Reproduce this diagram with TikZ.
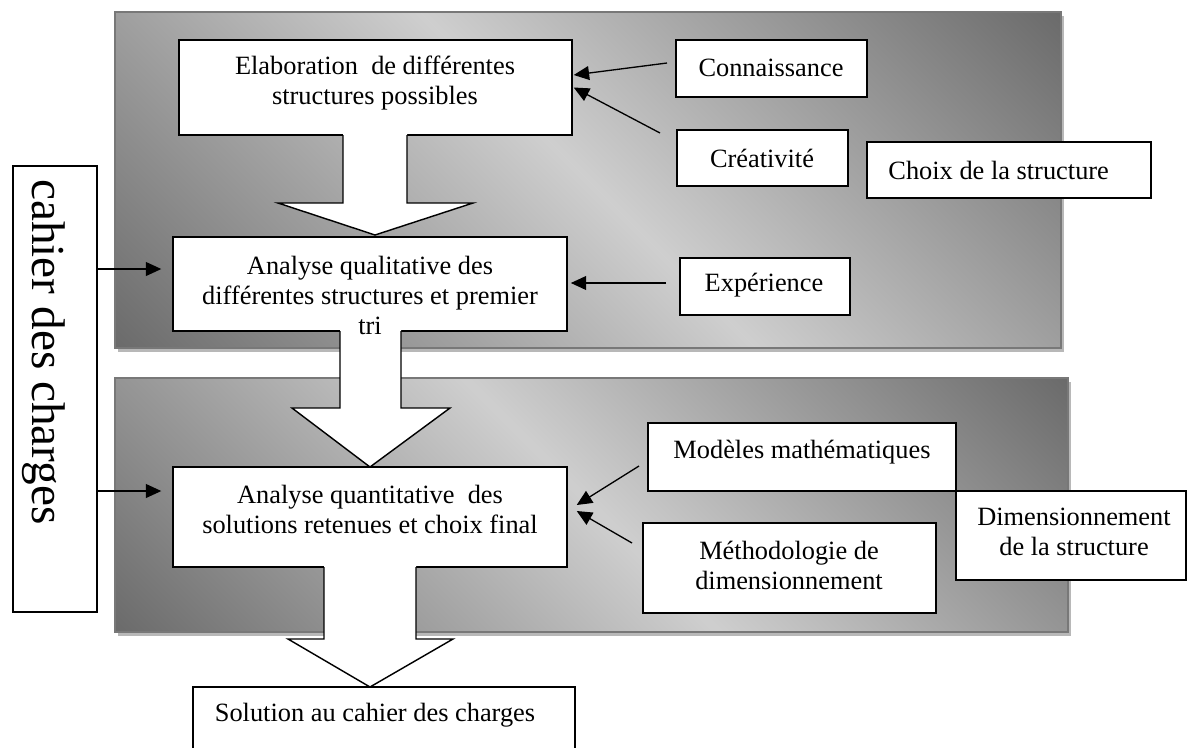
\documentclass[tikz,border=0pt]{standalone}
\usepackage{fontspec}
\setmainfont{Liberation Serif}
\usetikzlibrary{arrows.meta}
\def\pxl{0.455pt}
\definecolor{pdark}{gray}{0.39}
\definecolor{plight}{gray}{0.81}
\definecolor{pborder}{gray}{0.47}
\definecolor{pshadow}{gray}{0.72}
\pgfdeclareverticalshading{panelshade}{100bp}{color(0bp)=(pdark); color(12bp)=(pdark); color(50bp)=(plight); color(88bp)=(pdark); color(100bp)=(pdark)}
\begin{document}
\begin{tikzpicture}[x=0.455pt,y=-0.455pt,
  box/.style={draw, fill=white, line width=0.65pt, inner sep=0pt},
  txt/.style={align=center, inner sep=0pt, font=\fontsize{12}{13.65}\selectfont},
  arr/.style={line width=0.6pt, -{Triangle[length=7pt,width=6.3pt]}},
  blk/.style={line width=0.65pt, line join=miter},
  panel/.style={shading=panelshade, shading angle=-45},
  pframe/.style={draw=pborder, line width=0.8pt},
  pshade/.style={fill=pshadow}]
\useasboundingbox (0,0) rectangle (1187,747);

% panels
\fill[pshade] (118,16) rectangle (1064,352);
\fill[panel] (115,12) rectangle (1061,348);
\draw[pframe] (115,12) rectangle (1061,348);
\fill[pshade] (118,382) rectangle (1071,636);
\fill[panel] (115,378) rectangle (1068,632);
\draw[pframe] (115,378) rectangle (1068,632);

% boxes
\node[box, minimum width=393*\pxl, minimum height=95*\pxl] (elab) at (375.5,87.5) {};
\node[box, minimum width=394*\pxl, minimum height=94*\pxl] (qual) at (370,284) {};
\node[box, minimum width=394*\pxl, minimum height=100*\pxl] (quant) at (370,517) {};
\node[box, minimum width=191*\pxl, minimum height=57*\pxl] (know) at (771.5,68.5) {};
\node[box, minimum width=171*\pxl, minimum height=56*\pxl] (crea) at (762.5,158) {};
\node[box, minimum width=284*\pxl, minimum height=56*\pxl] (choix) at (1009,170) {};
\node[box, minimum width=170*\pxl, minimum height=57*\pxl] (exp) at (765,286.5) {};
\node[box, minimum width=308*\pxl, minimum height=68*\pxl] (model) at (802,457) {};
\node[box, minimum width=293*\pxl, minimum height=90*\pxl] (metho) at (789.5,568) {};
\node[box, minimum width=230*\pxl, minimum height=89*\pxl] (dimen) at (1071,535.5) {};
\node[box, minimum width=84*\pxl, minimum height=446*\pxl] (cahier) at (55,389) {};
\node[box, minimum width=382*\pxl, minimum height=83*\pxl] (sol) at (384,728.5) {};

% block arrows
\fill[white] (343,131) -- (343,203) -- (278,203) -- (375,235) -- (473,203) -- (407,203) -- (407,131) -- cycle;
\draw[blk] (343,135) -- (343,203) -- (278,203) -- (375,235) -- (473,203) -- (407,203) -- (407,135);
\fill[white] (340,327) -- (340,408) -- (292,408) -- (370,467) -- (450,408) -- (401,408) -- (401,327) -- cycle;
\draw[blk] (340,331) -- (340,408) -- (292,408) -- (370,467) -- (450,408) -- (401,408) -- (401,331);
\fill[white] (324,563) -- (324,639) -- (288,639) -- (370,687) -- (453,639) -- (416,639) -- (416,563) -- cycle;
\draw[blk] (324,567) -- (324,639) -- (288,639) -- (370,687) -- (453,639) -- (416,639) -- (416,567);

% texts
\node[txt] (elabT) at (375,83) {Elaboration\ \ de différentes\\structures possibles};
\node[txt] (qualT) at (370,295) {Analyse qualitative des\\différentes structures et premier\\tri};
\node[txt] (quantT) at (370,509) {Analyse quantitative\ \ des\\solutions retenues et choix final};
\node[txt] (knowT) at (771,68) {Connaissance};
\node[txt] (creaT) at (762,158) {Créativité};
\node[txt, anchor=west] (choixT) at (888,170) {Choix de la structure};
\node[txt] (expT) at (764,285) {Expérience};
\node[txt] (modelT) at (802,452) {Modèles mathématiques};
\node[txt] (methoT) at (789,565) {Méthodologie de\\dimensionnement};
\node[txt] (dimenT) at (1074,532) {Dimensionnement\\de la structure};
\node[txt] (solT) at (375,715) {Solution au cahier des charges};
\node[txt, rotate=-90, font=\fontsize{21.5}{24}\selectfont] (cahierT) at (44,352) {cahier des charges};

% connectors
\coordinate (k1) at (667,63);
\draw[arr] (k1) -- ([shift={(1,-12.5)}]elab.east);
\coordinate (k2) at (660,133);
\draw[arr] (k2) -- ([shift={(1,0)}]elab.east);
\coordinate (e1) at (666,283);
\draw[arr, shorten >=1.4pt] (e1) -- (e1 -| qual.east);
\coordinate (c1) at (97,269);
\draw[arr, shorten >=5pt] (c1) -- (c1 -| qual.west);
\coordinate (c2) at (97,491);
\draw[arr, shorten >=5pt] (c2) -- (c2 -| quant.west);
\coordinate (m1) at (639,466);
\draw[arr] (m1) -- ([shift={(9,-12)}]quant.east);
\coordinate (m2) at (632,543);
\draw[arr] (m2) -- ([shift={(9,-6)}]quant.east);
\end{tikzpicture}
\end{document}
